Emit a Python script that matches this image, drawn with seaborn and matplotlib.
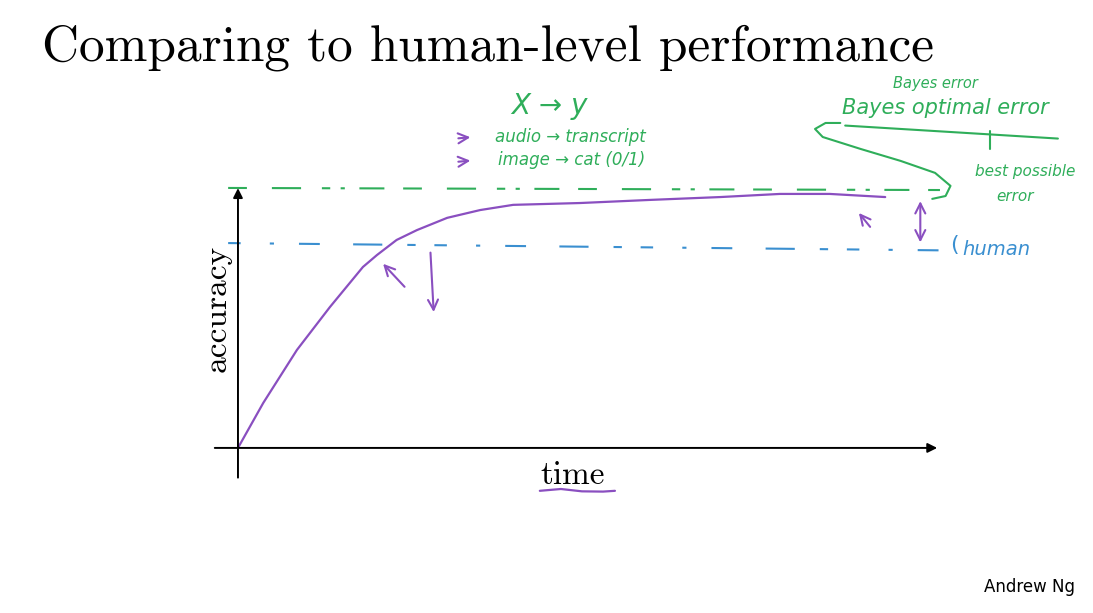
import numpy as np
import pandas as pd
import matplotlib
matplotlib.use("Agg")
import matplotlib.pyplot as plt
import seaborn as sns
from matplotlib.patches import FancyArrowPatch

# ---------------- data ----------------
time_pts = [0, 3.6, 8.4, 13.1, 17.8, 19.8, 22.6, 25.5, 29.8, 34.5, 39.2, 48.7,
            58.7, 68.7, 77.2, 84.3, 92.2]
accuracy_pts = [0, 17.3, 37.7, 54.2, 69.6, 74.2, 80.0, 83.8, 88.5, 91.5, 93.5, 94.2,
                95.4, 96.5, 97.7, 97.7, 96.5]
level_t = [-1.4, 100]
bayes_level = [100, 99.2]
human_level = [78.8, 76.0]

brace_t = [85.8, 83.7, 82.2, 83.3, 88.7, 94.4, 99.3, 101.5, 100.8, 98.9]
brace_a = [125.0, 125.0, 122.7, 119.6, 115.0, 110.4, 105.8, 100.8, 96.9, 95.8]
underline_t = [86.5, 116.8]
underline_a = [124.0, 119.0]
tick_t = [107.1, 107.1]
tick_a = [122.0, 115.0]
time_ul_t = [43.0, 46.0, 49.0, 52.0, 53.7]
time_ul_a = [-16.5, -15.8, -16.7, -16.8, -16.5]

# colours
PURPLE = "#8a4fc0"
GREEN = "#2fae5a"
BLUE = "#3a8fd0"

sns.set_theme(style="white")
plt.rcParams["font.family"] = ["DejaVu Sans"]

fig = plt.figure(figsize=(10.93, 6.13), dpi=100)
ax = fig.add_axes([0, 0, 1, 1])
ax.set_xlim(-33.9, 121.8)
ax.set_ylim(-63.5, 172.3)
ax.axis("off")

df = pd.DataFrame({"time": time_pts, "accuracy": accuracy_pts})
sns.lineplot(data=df, x="time", y="accuracy", ax=ax, color=PURPLE, lw=1.6, sort=False)

# dashed reference levels
ax.plot(level_t, bayes_level, color=GREEN, lw=1.5, dashes=[9, 12, 14, 10, 4, 5, 2, 7, 12, 9])
ax.plot(level_t, human_level, color=BLUE, lw=1.5, dashes=[6, 14, 2, 12, 10, 16, 14, 12, 4, 9])

# axes arrows
ax.annotate("", xy=(100, 0), xytext=(-3.7, 0),
            arrowprops=dict(arrowstyle="-|>", color="black", lw=1.4, mutation_scale=14))
ax.annotate("", xy=(0, 101), xytext=(0, -12.5),
            arrowprops=dict(arrowstyle="-|>", color="black", lw=1.4, mutation_scale=14))

# purple hand-drawn arrows
def arr(tail, head, style="->"):
    ax.add_patch(FancyArrowPatch(tail, head, arrowstyle=style, color=PURPLE, lw=1.5,
                                 mutation_scale=18))

arr((24.0, 61.2), (20.4, 71.6))
arr((27.4, 76.2), (27.9, 51.2))
arr((90.3, 84.2), (88.2, 91.2))
arr((97.2, 78.0), (97.2, 96.0), style="<->")
arr((31.0, 119.0), (33.5, 119.6))
arr((31.0, 110.0), (33.5, 110.6))

# green brace / underline
ax.plot(brace_t, brace_a, color=GREEN, lw=1.5)
ax.plot(underline_t, underline_a, color=GREEN, lw=1.5)
ax.plot(tick_t, tick_a, color=GREEN, lw=1.5)
ax.plot(time_ul_t, time_ul_a, color=PURPLE, lw=1.6)

# handwritten-like notes
hand = dict(family="DejaVu Sans", fontstyle="italic")
ax.text(44.4, 131.5, "X → y", color=GREEN, fontsize=20, ha="center", va="center", **hand)
ax.text(47.3, 119.7, "audio → transcript", color=GREEN, fontsize=12, ha="center", va="center", **hand)
ax.text(47.6, 110.9, "image → cat (0/1)", color=GREEN, fontsize=12, ha="center", va="center", **hand)
ax.text(99.3, 140.0, "Bayes error", color=GREEN, fontsize=10.5, ha="center", va="center", **hand)
ax.text(100.7, 130.8, "Bayes optimal error", color=GREEN, fontsize=15, ha="center", va="center", **hand)
ax.text(112.1, 106.5, "best possible", color=GREEN, fontsize=11, ha="center", va="center", **hand)
ax.text(110.7, 96.9, "error", color=GREEN, fontsize=11, ha="center", va="center", **hand)
ax.text(108.0, 76.5, "human", color=BLUE, fontsize=14, ha="center", va="center", **hand)
ax.text(102.0, 78.0, "(", color=BLUE, fontsize=16, ha="center", va="center")

# axis labels (serif)
ax.text(-3.0, 53.5, "accuracy", family="cmr10", fontsize=24, rotation=90,
        ha="center", va="center", color="black")
ax.text(47.7, -10.5, "time", family="cmr10", fontsize=24, ha="center", va="center", color="black")

fig.text(42 / 1093, 1 - 48 / 613, "Comparing to human-level performance", family="cmr10",
         fontsize=37, ha="left", va="center", color="black")
fig.text(1030 / 1093, 1 - 587 / 613, "Andrew Ng", family="DejaVu Sans", fontsize=12,
         ha="center", va="center", color="black")

fig.savefig("out.png", dpi=100)
